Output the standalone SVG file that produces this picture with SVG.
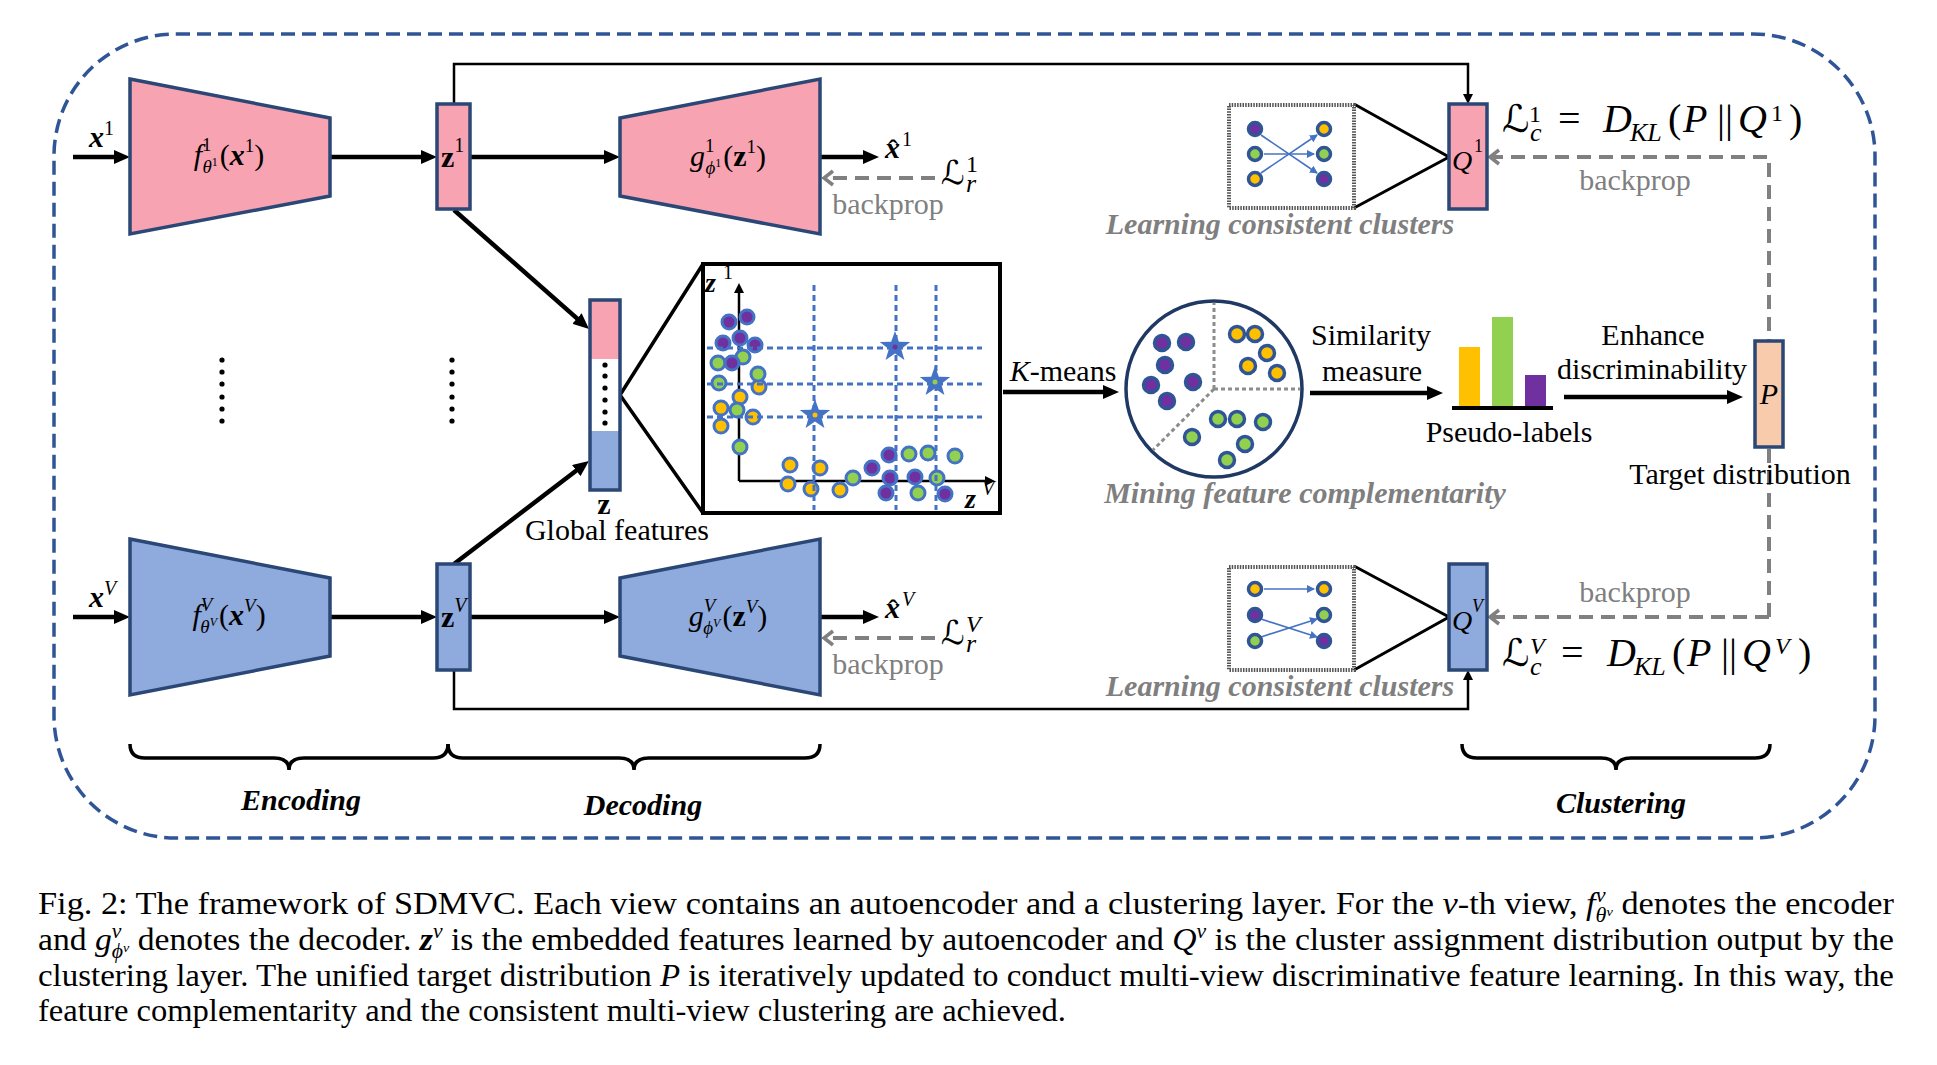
<svg xmlns="http://www.w3.org/2000/svg" width="1937" height="1065" viewBox="0 0 1937 1065">
<defs>
<style>
.t{font-family:"Liberation Serif",serif;font-size:30px;fill:#000}
.it{font-style:italic}
.b{font-weight:bold}
.gl{font-family:"Liberation Serif",serif;font-size:30px;font-weight:bold;font-style:italic;fill:#7F7F7F}
.bi{font-family:"Liberation Serif",serif;font-size:30px;font-weight:bold;font-style:italic;fill:#000}
.bp{font-family:"Liberation Serif",serif;font-size:30px;fill:#7F7F7F}
.cap{font-family:"Liberation Serif",serif;font-size:31px;fill:#000}
.sl{font-family:"DejaVu Serif","DejaVu Sans",serif}
.pink{fill:#F7A3B1}
.blue{fill:#8FAADC}
.peach{fill:#F8CBAD}
.nav{stroke:#2A4776;stroke-width:3.5}
.ar{stroke:#000;stroke-width:4.5;fill:none;marker-end:url(#ah)}
.thin{stroke:#000;stroke-width:2.5;fill:none;marker-end:url(#ahs)}
.bk{stroke:#808080;stroke-width:4;stroke-dasharray:14 8;fill:none;marker-end:url(#ahg)}
.sp{fill:#7030A0}.sg{fill:#92D050}.sy{fill:#FFC000}
.sc circle{stroke:#4472C4;stroke-width:3}
.mc circle{stroke:#2F5597;stroke-width:3.5}
.cb circle{stroke:#2F5597;stroke-width:3.5}
.grid{stroke:#4472C4;stroke-width:3;stroke-dasharray:6 4;fill:none}
.ba{stroke:#4472C4;stroke-width:1.6;fill:none;marker-end:url(#ahb)}
.dot{fill:#000}
</style>
<marker id="ah" markerUnits="userSpaceOnUse" markerWidth="16" markerHeight="14" refX="6" refY="7" orient="auto"><path d="M0,0 L16,7 L0,14 z" fill="#000"/></marker>
<marker id="ahs" markerUnits="userSpaceOnUse" markerWidth="10" markerHeight="10" refX="4" refY="5" orient="auto"><path d="M0,0 L10,5 L0,10 z" fill="#000"/></marker>
<marker id="ahg" markerUnits="userSpaceOnUse" markerWidth="14" markerHeight="18" refX="11" refY="9" orient="auto"><path d="M2,2 L11,9 L2,16" fill="none" stroke="#808080" stroke-width="3.5"/></marker>
<marker id="ahb" markerUnits="userSpaceOnUse" markerWidth="8" markerHeight="8" refX="7" refY="4" orient="auto"><path d="M0,0 L8,4 L0,8 z" fill="#4472C4"/></marker>
<polygon id="star" points="0,-16 3.82,-5.26 15.22,-4.94 6.18,2.01 9.4,12.94 0,6.5 -9.4,12.94 -6.18,2.01 -15.22,-4.94 -3.82,-5.26" fill="#4472C4"/>
</defs>
<rect width="1937" height="1065" fill="#fff"/>

<!-- outer dashed frame -->
<rect x="54" y="34" width="1821" height="804" rx="122" ry="122" fill="none" stroke="#2F5597" stroke-width="3.5" stroke-dasharray="14 7"/>

<!-- connectors -->
<g id="connectors">
<path class="ar" d="M73,157 H120"/>
<path class="ar" d="M330,157 H427"/>
<path class="ar" d="M470,157 H610"/>
<path class="ar" d="M820,157 H869"/>
<path class="bk" d="M935,178 H824"/>
<path class="thin" d="M454,104 V64 H1468 V98"/>
<path class="ar" d="M454,210 L581.5,322.4"/>
<path class="ar" d="M454,564 L581,467"/>
<path d="M620,395 L703,264 M620,395 L703,513" stroke="#000" stroke-width="3.5" fill="none"/>
<path class="ar" d="M1003,392 H1109"/>
<path class="ar" d="M1310,393 H1433"/>
<path class="ar" d="M1564,397 H1733"/>
<path class="bk" d="M1769,617 V157 H1490"/>
<path class="bk" d="M1769,617 H1490"/>
<path class="thin" d="M454,670 V709 H1468 V676"/>
<path class="ar" d="M73,617 H120"/>
<path class="ar" d="M330,617 H427"/>
<path class="ar" d="M470,617 H610"/>
<path class="ar" d="M820,617 H869"/>
<path class="bk" d="M935,638 H824"/>
<polyline points="1354,104 1449,157 1354,208" fill="none" stroke="#000" stroke-width="3"/>
<polyline points="1354,566 1449,617 1354,670" fill="none" stroke="#000" stroke-width="3"/>
</g>

<!-- view 1 encoder -->
<g id="encoder1">
<polygon points="130,79 330,118 330,196 130,234" class="pink nav"/>
<text class="t" x="229" y="165" text-anchor="middle"><tspan class="it">f</tspan><tspan dy="-14" font-size="19">1</tspan><tspan dx="-9" dy="22" font-size="19" class="it">θ</tspan><tspan dy="-7" font-size="12">1</tspan><tspan dy="-1" dx="2">(</tspan><tspan class="b it">x</tspan><tspan dy="-13" font-size="19">1</tspan><tspan dy="13">)</tspan></text>
</g>
<g id="input1"><text class="t" x="89" y="147"><tspan class="b it">x</tspan><tspan dy="-12" font-size="20">1</tspan></text></g>
<g id="z1">
<rect x="437" y="104" width="33" height="105" class="pink nav"/>
<text class="t" x="441" y="167"><tspan class="b">z</tspan><tspan dy="-15" font-size="20">1</tspan></text>
</g>
<g id="decoder1">
<polygon points="620,118 820,79 820,234 620,196" class="pink nav"/>
<text class="t" x="728" y="166" text-anchor="middle"><tspan class="it">g</tspan><tspan dy="-14" font-size="19">1</tspan><tspan dx="-9" dy="22" font-size="19" class="it">ϕ</tspan><tspan dy="-7" font-size="12">1</tspan><tspan dy="-1" dx="2">(</tspan><tspan class="b">z</tspan><tspan dy="-13" font-size="19">1</tspan><tspan dy="13">)</tspan></text>
</g>
<g id="xhat1">
<text class="t b it" x="885" y="158">x</text><text class="t" x="888" y="160">ˆ</text>
<text class="t" x="902" y="146" style="font-size:20px">1</text>
</g>
<g id="Lr1">
<text class="t sl" x="941" y="184" style="font-size:33px;font-style:italic">ℒ</text>
<text class="t" x="966" y="172" style="font-size:24px">1</text>
<text class="t it" x="966" y="192" style="font-size:26px">r</text>
<text class="bp" x="888" y="214" text-anchor="middle">backprop</text>
</g>

<!-- ellipsis -->
<g id="ellipsis">
<circle class="dot" cx="222" cy="360" r="2.6"/><circle class="dot" cx="222" cy="372" r="2.6"/><circle class="dot" cx="222" cy="384" r="2.6"/><circle class="dot" cx="222" cy="397" r="2.6"/><circle class="dot" cx="222" cy="409" r="2.6"/><circle class="dot" cx="222" cy="421" r="2.6"/>
<circle class="dot" cx="452" cy="360" r="2.6"/><circle class="dot" cx="452" cy="372" r="2.6"/><circle class="dot" cx="452" cy="384" r="2.6"/><circle class="dot" cx="452" cy="397" r="2.6"/><circle class="dot" cx="452" cy="409" r="2.6"/><circle class="dot" cx="452" cy="421" r="2.6"/>
</g>

<!-- global features -->
<g id="global">
<rect x="590" y="300" width="30" height="59" class="pink"/>
<rect x="590" y="359" width="30" height="72" fill="#fff"/>
<rect x="590" y="431" width="30" height="59" class="blue"/>
<rect x="590" y="300" width="30" height="190" fill="none" class="nav"/>
<circle class="dot" cx="605" cy="365" r="2.6"/><circle class="dot" cx="605" cy="376" r="2.6"/><circle class="dot" cx="605" cy="388" r="2.6"/><circle class="dot" cx="605" cy="400" r="2.6"/><circle class="dot" cx="605" cy="412" r="2.6"/><circle class="dot" cx="605" cy="423" r="2.6"/>
<text class="t b" x="604" y="514" text-anchor="middle">z</text>
<text class="t" x="617" y="540" text-anchor="middle">Global features</text>
</g>

<!-- scatter panel -->
<g id="panel">
<rect x="703" y="264" width="297" height="249" fill="#fff" stroke="#000" stroke-width="4"/>
<path class="thin" d="M739,481 V289"/>
<path class="thin" d="M739,481 H989"/>
<text class="t b it" x="705" y="292" style="font-size:28px">z</text><text class="t" x="723" y="279" style="font-size:20px">1</text>
<text class="t b it" x="965" y="508" style="font-size:28px">z</text><text class="t it" x="982" y="495" style="font-size:20px">V</text>
<g class="sc">
<circle cx="729" cy="322" r="7" class="sp"/><circle cx="747" cy="317" r="7" class="sp"/>
<circle cx="723" cy="343" r="7" class="sp"/><circle cx="740" cy="338" r="7" class="sp"/><circle cx="755" cy="345" r="7" class="sp"/>
<circle cx="743" cy="357" r="7" class="sg"/><circle cx="718" cy="363" r="7" class="sg"/><circle cx="732" cy="363" r="7" class="sp"/>
<circle cx="759" cy="387" r="7" class="sy"/><circle cx="758" cy="374" r="7" class="sg"/>
<circle cx="719" cy="383" r="7" class="sg"/>
<circle cx="740" cy="397" r="7" class="sy"/><circle cx="721" cy="408" r="7" class="sy"/><circle cx="737" cy="410" r="7" class="sg"/><circle cx="753" cy="417" r="7" class="sy"/><circle cx="721" cy="426" r="7" class="sy"/>
<circle cx="740" cy="447" r="7" class="sg"/>
<circle cx="790" cy="465" r="7" class="sy"/><circle cx="820" cy="468" r="7" class="sy"/>
<circle cx="788" cy="484" r="7" class="sy"/><circle cx="811" cy="489" r="7" class="sy"/><circle cx="840" cy="490" r="7" class="sy"/>
<circle cx="853" cy="478" r="7" class="sg"/><circle cx="872" cy="468" r="7" class="sp"/>
<circle cx="889" cy="455" r="7" class="sp"/><circle cx="909" cy="454" r="7" class="sg"/><circle cx="928" cy="453" r="7" class="sg"/><circle cx="955" cy="456" r="7" class="sg"/>
<circle cx="890" cy="478" r="7" class="sp"/><circle cx="915" cy="477" r="7" class="sp"/><circle cx="937" cy="478" r="7" class="sg"/>
<circle cx="886" cy="493" r="7" class="sp"/><circle cx="918" cy="493" r="7" class="sg"/><circle cx="945" cy="494" r="7" class="sp"/>
</g>
<path class="grid" d="M814,285 V510 M896,285 V510 M936,285 V510 M707,348 H982 M707,384 H982 M707,417 H982"/>
<use href="#star" x="895" y="347"/><circle cx="895" cy="347" r="2.5" class="sp"/>
<use href="#star" x="935" y="382"/><circle cx="935" cy="382" r="2.5" class="sg"/>
<use href="#star" x="815" y="415"/><circle cx="815" cy="415" r="2.5" class="sy"/>
</g>

<g id="kmeans"><text class="t" x="1063" y="381" text-anchor="middle"><tspan class="it">K</tspan>-means</text></g>

<!-- mining circle -->
<g id="mining">
<circle cx="1214" cy="389" r="88" fill="#fff" stroke="#1F3864" stroke-width="3.5"/>
<path d="M1214,389 V303 M1214,389 H1300 M1214,389 L1153,450" stroke="#8C8C8C" stroke-width="3" stroke-dasharray="4 3" fill="none"/>
<g class="mc">
<circle cx="1162" cy="343" r="7.5" class="sp"/><circle cx="1186" cy="342" r="7.5" class="sp"/><circle cx="1165" cy="365" r="7.5" class="sp"/><circle cx="1151" cy="385" r="7.5" class="sp"/><circle cx="1193" cy="382" r="7.5" class="sp"/><circle cx="1167" cy="401" r="7.5" class="sp"/>
<circle cx="1237" cy="334" r="7.5" class="sy"/><circle cx="1255" cy="334" r="7.5" class="sy"/><circle cx="1267" cy="353" r="7.5" class="sy"/><circle cx="1248" cy="366" r="7.5" class="sy"/><circle cx="1277" cy="373" r="7.5" class="sy"/>
<circle cx="1218" cy="419" r="7.5" class="sg"/><circle cx="1237" cy="419" r="7.5" class="sg"/><circle cx="1263" cy="422" r="7.5" class="sg"/><circle cx="1192" cy="437" r="7.5" class="sg"/><circle cx="1245" cy="444" r="7.5" class="sg"/><circle cx="1227" cy="460" r="7.5" class="sg"/>
</g>
<text class="gl" x="1305" y="503" text-anchor="middle">Mining feature complementarity</text>
</g>

<g id="similarity">
<text class="t" x="1371" y="345" text-anchor="middle">Similarity</text>
<text class="t" x="1372" y="381" text-anchor="middle">measure</text>
</g>

<g id="pseudolabels">
<rect x="1459" y="347" width="21" height="59" fill="#FFC000"/>
<rect x="1492" y="317" width="21" height="89" fill="#92D050"/>
<rect x="1525" y="375" width="21" height="31" fill="#7030A0"/>
<line x1="1452" y1="408" x2="1553" y2="408" stroke="#000" stroke-width="4"/>
<text class="t" x="1509" y="442" text-anchor="middle">Pseudo-labels</text>
</g>

<g id="enhance">
<text class="t" x="1653" y="345" text-anchor="middle">Enhance</text>
<text class="t" x="1652" y="379" text-anchor="middle">discriminability</text>
</g>

<g id="P">
<rect x="1755" y="341" width="28" height="106" class="peach nav"/>
<text class="t it" x="1769" y="404" text-anchor="middle">P</text>
<text class="t" x="1740" y="484" text-anchor="middle">Target distribution</text>
</g>

<!-- clusters view 1 -->
<g id="clusters1">
<rect x="1229" y="105" width="125" height="103" fill="#fff" stroke="#555" stroke-width="4" stroke-dasharray="1.5 1.2"/>
<path class="ba" d="M1261,135 L1317,173"/>
<path class="ba" d="M1264,154 H1314"/>
<path class="ba" d="M1261,173 L1317,135"/>
<g class="cb">
<circle cx="1255" cy="129" r="6.5" class="sp"/><circle cx="1255" cy="154" r="6.5" class="sg"/><circle cx="1255" cy="179" r="6.5" class="sy"/>
<circle cx="1324" cy="129" r="6.5" class="sy"/><circle cx="1324" cy="154" r="6.5" class="sg"/><circle cx="1324" cy="179" r="6.5" class="sp"/>
</g>
<text class="gl" x="1280" y="234" text-anchor="middle">Learning consistent clusters</text>
</g>
<g id="Q1">
<rect x="1449" y="104" width="38" height="105" class="pink nav"/>
<text class="t it" x="1452" y="170" style="font-size:28px">Q</text><text class="t" x="1474" y="152" style="font-size:18px">1</text>
</g>
<g id="Lc1">
<text class="t sl" x="1502" y="132" style="font-size:38px;font-style:italic">ℒ</text>
<text class="t" x="1529" y="122" style="font-size:24px">1</text>
<text class="t it" x="1530" y="141" style="font-size:26px">c</text>
<text class="t" x="1558" y="132" style="font-size:40px">=</text>
<text class="t it" x="1603" y="132" style="font-size:40px">D</text>
<text class="t it" x="1630" y="141" style="font-size:26px">KL</text>
<text class="t" x="1668" y="132" style="font-size:40px">(</text>
<text class="t it" x="1683" y="132" style="font-size:40px">P</text>
<text class="t" x="1717" y="132" style="font-size:40px">||</text>
<text class="t it" x="1738" y="132" style="font-size:40px">Q</text>
<text class="t" x="1771" y="121" style="font-size:24px">1</text>
<text class="t" x="1789" y="132" style="font-size:40px">)</text>
<text class="bp" x="1635" y="190" text-anchor="middle">backprop</text>
</g>

<!-- view V -->
<g id="encoderV">
<polygon points="130,539 330,578 330,656 130,695" class="blue nav"/>
<text class="t" x="229" y="625" text-anchor="middle"><tspan class="it">f</tspan><tspan dy="-14" font-size="19" class="it">V</tspan><tspan dx="-12" dy="22" font-size="19" class="it">θ</tspan><tspan dy="-7" font-size="12" class="it">V</tspan><tspan dy="-1" dx="2">(</tspan><tspan class="b it">x</tspan><tspan dy="-13" font-size="19" class="it">V</tspan><tspan dy="13">)</tspan></text>
</g>
<g id="inputV"><text class="t" x="89" y="607"><tspan class="b it">x</tspan><tspan dy="-12" font-size="20" class="it">V</tspan></text></g>
<g id="zV">
<rect x="437" y="564" width="33" height="106" class="blue nav"/>
<text class="t" x="441" y="627"><tspan class="b">z</tspan><tspan dy="-15" font-size="20" class="it">V</tspan></text>
</g>
<g id="decoderV">
<polygon points="620,578 820,539 820,695 620,656" class="blue nav"/>
<text class="t" x="728" y="626" text-anchor="middle"><tspan class="it">g</tspan><tspan dy="-14" font-size="19" class="it">V</tspan><tspan dx="-12" dy="22" font-size="19" class="it">ϕ</tspan><tspan dy="-7" font-size="12" class="it">V</tspan><tspan dy="-1" dx="2">(</tspan><tspan class="b">z</tspan><tspan dy="-13" font-size="19" class="it">V</tspan><tspan dy="13">)</tspan></text>
</g>
<g id="xhatV">
<text class="t b it" x="885" y="618">x</text><text class="t" x="888" y="620">ˆ</text>
<text class="t it" x="902" y="606" style="font-size:20px">V</text>
</g>
<g id="LrV">
<text class="t sl" x="941" y="644" style="font-size:33px;font-style:italic">ℒ</text>
<text class="t it" x="966" y="632" style="font-size:24px">V</text>
<text class="t it" x="966" y="652" style="font-size:26px">r</text>
<text class="bp" x="888" y="674" text-anchor="middle">backprop</text>
</g>

<g id="clustersV">
<rect x="1229" y="567" width="125" height="103" fill="#fff" stroke="#555" stroke-width="4" stroke-dasharray="1.5 1.2"/>
<path class="ba" d="M1264,589 H1314"/>
<path class="ba" d="M1261,619 L1317,637"/>
<path class="ba" d="M1261,637 L1317,619"/>
<g class="cb">
<circle cx="1255" cy="589" r="6.5" class="sy"/><circle cx="1255" cy="615" r="6.5" class="sp"/><circle cx="1255" cy="641" r="6.5" class="sg"/>
<circle cx="1324" cy="589" r="6.5" class="sy"/><circle cx="1324" cy="615" r="6.5" class="sg"/><circle cx="1324" cy="641" r="6.5" class="sp"/>
</g>
<text class="gl" x="1280" y="696" text-anchor="middle">Learning consistent clusters</text>
</g>
<g id="QV">
<rect x="1449" y="564" width="38" height="106" class="blue nav"/>
<text class="t it" x="1452" y="630" style="font-size:28px">Q</text><text class="t it" x="1472" y="612" style="font-size:18px">V</text>
</g>
<g id="LcV">
<text class="t sl" x="1502" y="666" style="font-size:38px;font-style:italic">ℒ</text>
<text class="t it" x="1530" y="654" style="font-size:24px">V</text>
<text class="t it" x="1530" y="675" style="font-size:26px">c</text>
<text class="t" x="1561" y="666" style="font-size:40px">=</text>
<text class="t it" x="1607" y="666" style="font-size:40px">D</text>
<text class="t it" x="1634" y="675" style="font-size:26px">KL</text>
<text class="t" x="1672" y="666" style="font-size:40px">(</text>
<text class="t it" x="1687" y="666" style="font-size:40px">P</text>
<text class="t" x="1721" y="666" style="font-size:40px">||</text>
<text class="t it" x="1742" y="666" style="font-size:40px">Q</text>
<text class="t it" x="1775" y="654" style="font-size:24px">V</text>
<text class="t" x="1798" y="666" style="font-size:40px">)</text>
<text class="bp" x="1635" y="602" text-anchor="middle">backprop</text>
</g>

<!-- braces -->
<g id="braces" fill="none" stroke="#000" stroke-width="3.5">
<path d="M130,744 Q130,758 145,758 L274,758 Q289,758 289,770 Q289,758 304,758 L433,758 Q448,758 448,744"/>
<path d="M448,744 Q448,758 463,758 L619,758 Q634,758 634,770 Q634,758 649,758 L805,758 Q820,758 820,744"/>
<path d="M1462,744 Q1462,758 1477,758 L1601,758 Q1616,758 1616,770 Q1616,758 1631,758 L1755,758 Q1770,758 1770,744"/>
</g>
<text class="bi" x="301" y="810" text-anchor="middle">Encoding</text>
<text class="bi" x="643" y="815" text-anchor="middle">Decoding</text>
<text class="bi" x="1621" y="813" text-anchor="middle">Clustering</text>

<!-- caption -->
<g id="caption">
<text class="cap" x="38" y="914" textLength="1856" lengthAdjust="spacingAndGlyphs">Fig. 2: The framework of SDMVC. Each view contains an autoencoder and a clustering layer. For the <tspan class="it">v</tspan>-th view, <tspan class="it">f</tspan><tspan font-size="20" class="it" dy="-12">v</tspan><tspan font-size="20" class="it" dx="-9" dy="20">θ</tspan><tspan font-size="13" class="it" dy="-6">v</tspan><tspan dy="-2"> denotes the encoder</tspan></text>
<text class="cap" x="38" y="950" textLength="1856" lengthAdjust="spacingAndGlyphs">and <tspan class="it">g</tspan><tspan font-size="20" class="it" dy="-12">v</tspan><tspan font-size="20" class="it" dx="-9" dy="20">ϕ</tspan><tspan font-size="13" class="it" dy="-6">v</tspan><tspan dy="-2"> denotes the decoder. </tspan><tspan class="b it">z</tspan><tspan font-size="20" class="it" dy="-12">v</tspan><tspan dy="12"> is the embedded features learned by autoencoder and </tspan><tspan class="it">Q</tspan><tspan font-size="20" class="it" dy="-12">v</tspan><tspan dy="12"> is the cluster assignment distribution output by the</tspan></text>
<text class="cap" x="38" y="986" textLength="1856" lengthAdjust="spacingAndGlyphs">clustering layer. The unified target distribution <tspan class="it">P</tspan> is iteratively updated to conduct multi-view discriminative feature learning. In this way, the</text>
<text class="cap" x="38" y="1021" textLength="1028" lengthAdjust="spacingAndGlyphs">feature complementarity and the consistent multi-view clustering are achieved.</text>
</g>
</svg>
